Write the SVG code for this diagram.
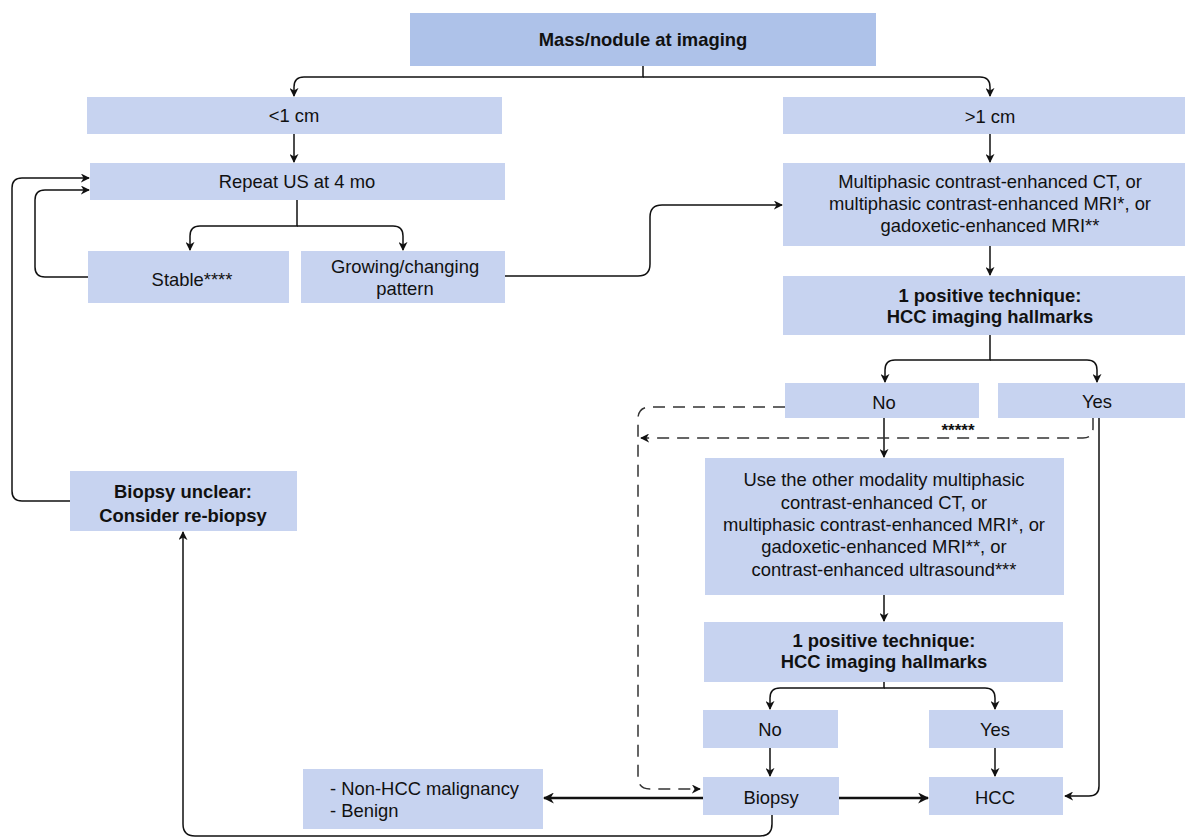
<svg xmlns="http://www.w3.org/2000/svg" width="1185" height="838" viewBox="0 0 1185 838">
<style>
.box{fill:#c7d3f0;}
.top{fill:#aec2e9;}
text{font-family:"Liberation Sans",Arial,sans-serif;font-size:18.4px;fill:#111;text-anchor:middle;}
.b{font-weight:bold;}
.l{text-anchor:start;}
.c{fill:none;stroke:#111;stroke-width:1.5;}
.t{stroke-width:2.5;}
.d{stroke-dasharray:12 8;stroke:#333;}
.s{font-size:17px;font-weight:bold;}
</style>
<defs>
<marker id="a" viewBox="0 0 10 10" refX="9" refY="5" markerWidth="9" markerHeight="9" markerUnits="userSpaceOnUse" orient="auto">
<path d="M0,0 L10,5 L0,10 L3,5 z" fill="#111"/>
</marker>
<marker id="at" viewBox="0 0 10 10" refX="9" refY="5" markerWidth="11" markerHeight="11" markerUnits="userSpaceOnUse" orient="auto">
<path d="M0,0 L10,5 L0,10 L3,5 z" fill="#111"/>
</marker>
</defs>
<rect width="1185" height="838" fill="#fff"/>
<g id="connectors">
<path class="c" marker-end="url(#a)" d="M643,66 V77 H304 Q294,77 294,87 V96"/>
<path class="c" marker-end="url(#a)" d="M643,77 H980 Q990,77 990,87 V96"/>
<path class="c" marker-end="url(#a)" d="M294,134 V162"/>
<path class="c" marker-end="url(#a)" d="M297,200 V226 H200 Q190,226 190,236 V250"/>
<path class="c" marker-end="url(#a)" d="M297,226 H393 Q403,226 403,236 V250"/>
<path class="c" marker-end="url(#a)" d="M88,277 H45 Q35,277 35,267 V200 Q35,190 45,190 H89"/>
<path class="c" marker-end="url(#a)" d="M70,501 H22 Q12,501 12,491 V188 Q12,178 22,178 H89"/>
<path class="c" marker-end="url(#a)" d="M505,276 H638 Q650,276 650,264 V217 Q650,205 662,205 H782"/>
<path class="c" marker-end="url(#a)" d="M990,134 V162"/>
<path class="c" marker-end="url(#a)" d="M990,246 V275"/>
<path class="c" marker-end="url(#a)" d="M990,335 V360 H895 Q885,360 885,370 V382"/>
<path class="c" marker-end="url(#a)" d="M990,360 H1087 Q1097,360 1097,370 V382"/>
<path class="c" marker-end="url(#a)" d="M884,418 V457"/>
<path class="c" marker-end="url(#a)" d="M1099,418 V786 Q1099,796 1089,796 H1065"/>
<path class="c" marker-end="url(#a)" d="M884,595 V621"/>
<path class="c" marker-end="url(#a)" d="M884,682 V688 H780 Q770,688 770,698 V709"/>
<path class="c" marker-end="url(#a)" d="M884,688 H985 Q995,688 995,698 V709"/>
<path class="c" marker-end="url(#a)" d="M770,748 V776"/>
<path class="c" marker-end="url(#a)" d="M995,748 V776"/>
<path class="c t" marker-end="url(#at)" d="M839,798 H928"/>
<path class="c t" marker-end="url(#at)" d="M703,798 H544"/>
<path class="c" marker-end="url(#a)" d="M772,815 V824 Q772,836 760,836 H195 Q183,836 183,824 V532"/>
<path class="c d" marker-end="url(#a)" d="M785,407 H650 Q638,407 638,419 V777 Q638,789 650,789 H700"/>
<path class="c d" marker-end="url(#a)" d="M1093,418 V428 Q1093,438 1083,438 H641"/>
<text class="s" x="958" y="436">*****</text>
</g>
<g id="mass"><rect class="top" x="410" y="13" width="466" height="53"/><text class="b" x="643" y="46">Mass/nodule at imaging</text></g>
<g id="lt1"><rect class="box" x="87" y="97" width="415" height="37"/><text x="294" y="122">&lt;1 cm</text></g>
<g id="gt1"><rect class="box" x="783" y="97" width="415" height="37"/><text x="990" y="123">&gt;1 cm</text></g>
<g id="repeat"><rect class="box" x="90" y="163" width="415" height="37"/><text x="297" y="188">Repeat US at 4 mo</text></g>
<g id="stable"><rect class="box" x="88" y="251" width="201" height="52"/><text x="192" y="286">Stable****</text></g>
<g id="growing"><rect class="box" x="301" y="251" width="204" height="52"/><text x="405" y="273">Growing/changing</text><text x="405" y="295">pattern</text></g>
<g id="multi"><rect class="box" x="783" y="163" width="415" height="83"/><text x="990" y="188">Multiphasic contrast-enhanced CT, or</text><text x="990" y="210">multiphasic contrast-enhanced MRI*, or</text><text x="990" y="232">gadoxetic-enhanced MRI**</text></g>
<g id="pos1"><rect class="box" x="783" y="276" width="415" height="59"/><text class="b" x="990" y="302">1 positive technique:</text><text class="b" x="990" y="323">HCC imaging hallmarks</text></g>
<g id="no1"><rect class="box" x="785" y="383" width="194" height="35"/><text x="884" y="409">No</text></g>
<g id="yes1"><rect class="box" x="998" y="383" width="198" height="35"/><text x="1097" y="408">Yes</text></g>
<g id="other"><rect class="box" x="705" y="458" width="359" height="137"/><text x="884" y="486">Use the other modality multiphasic</text><text x="884" y="509">contrast-enhanced CT, or</text><text x="884" y="531">multiphasic contrast-enhanced MRI*, or</text><text x="884" y="553">gadoxetic-enhanced MRI**, or</text><text x="884" y="576">contrast-enhanced ultrasound***</text></g>
<g id="pos2"><rect class="box" x="704" y="622" width="359" height="60"/><text class="b" x="884" y="647">1 positive technique:</text><text class="b" x="884" y="668">HCC imaging hallmarks</text></g>
<g id="no2"><rect class="box" x="703" y="710" width="135" height="38"/><text x="770" y="736">No</text></g>
<g id="yes2"><rect class="box" x="929" y="710" width="134" height="38"/><text x="995" y="736">Yes</text></g>
<g id="biopsy"><rect class="box" x="703" y="777" width="136" height="38"/><text x="771" y="804">Biopsy</text></g>
<g id="hcc"><rect class="box" x="929" y="777" width="134" height="38"/><text x="995" y="804">HCC</text></g>
<g id="nonhcc"><rect class="box" x="303" y="769" width="240" height="60"/><text class="l" x="330" y="795">- Non-HCC malignancy</text><text class="l" x="330" y="817">- Benign</text></g>
<g id="unclear"><rect class="box" x="70" y="471" width="227" height="60"/><text class="b" x="183" y="498">Biopsy unclear:</text><text class="b" x="183" y="522">Consider re-biopsy</text></g>
</svg>
